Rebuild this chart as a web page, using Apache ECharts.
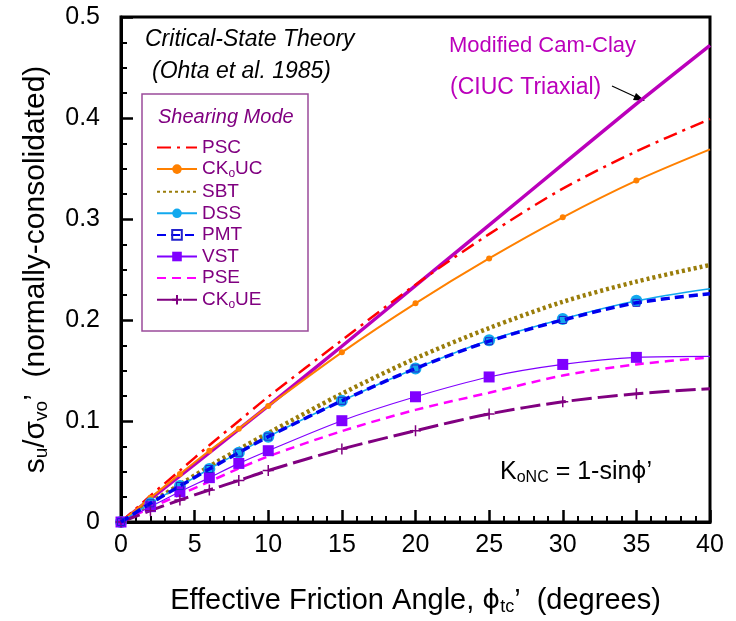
<!DOCTYPE html>
<html><head><meta charset="utf-8">
<script src="https://cdn.jsdelivr.net/npm/echarts@6/dist/echarts.min.js"></script>
<style>html,body{margin:0;padding:0;background:#fff}#c{width:736px;height:621px}</style>
</head><body><div id="c"></div>
<script>
const angles = [0, 2, 4, 6, 8, 10, 15, 20, 25, 30, 35, 40];
const mccAngles = [0, 5, 10, 15, 20, 25, 30, 35, 40];
const mcc  = [0, 0.057, 0.115, 0.174, 0.234, 0.294, 0.354, 0.414, 0.472];
const psc  = [0, 0.026, 0.051, 0.076, 0.100, 0.124, 0.180, 0.235, 0.285, 0.330, 0.367, 0.399];
const ck0uc= [0, 0.024, 0.0475, 0.0706, 0.0924, 0.1148, 0.168, 0.2165, 0.261, 0.3017, 0.338, 0.369];
const sbt  = [0, 0.019, 0.037, 0.055, 0.072, 0.088, 0.127, 0.162, 0.192, 0.218, 0.238, 0.2545];
const dss  = [0, 0.0185, 0.0356, 0.0525, 0.0686, 0.0845, 0.120, 0.152, 0.180, 0.201, 0.219, 0.231];
const pmt  = [0, 0.0185, 0.0356, 0.0525, 0.0686, 0.0845, 0.120, 0.152, 0.179, 0.200, 0.217, 0.226];
const vst  = [0, 0.0152, 0.030, 0.0439, 0.058, 0.0706, 0.1003, 0.124, 0.1436, 0.156, 0.163, 0.164];
const pse  = [0, 0.014, 0.027, 0.040, 0.053, 0.065, 0.090, 0.111, 0.128, 0.145, 0.156, 0.163];
const ck0ue= [0, 0.0112, 0.0218, 0.0317, 0.041, 0.051, 0.0723, 0.0904, 0.107, 0.119, 0.127, 0.132];
const seriesNames = ['PSC', 'CK0UC', 'SBT', 'DSS', 'PMT', 'VST', 'PSE', 'CK0UE'];
const lineOnly = ['PSC', 'SBT', 'PSE'];

const pair = (xs, ys) => xs.map((x, i) => [x, ys[i]]);
const FONT = 'Liberation Sans';
const PURPLE = '#800080';
const noLast = (sz) => (v, p) => (p.dataIndex === angles.length - 1 ? 0 : sz);

const chart = echarts.init(document.getElementById('c'));
chart.setOption({
  animation: false,
  backgroundColor: '#fff',
  textStyle: { fontFamily: FONT },
  grid: { left: 121, right: 26, top: 17, bottom: 99, show: true, borderColor: '#000', borderWidth: 3 },
  xAxis: {
    type: 'value', min: 0, max: 40, interval: 5,
    axisLine: { lineStyle: { color: '#000', width: 3 } },
    axisTick: { inside: true, length: 12, lineStyle: { color: '#000', width: 2.5 } },
    minorTick: { show: true, splitNumber: 5, length: 6, lineStyle: { color: '#000', width: 2 } },
    splitLine: { show: false },
    axisLabel: { fontSize: 25, color: '#000', margin: 11, fontFamily: FONT },
    name: 'Effective Friction Angle, {p|ϕ}{sub|tc}’  (degrees)',
    nameLocation: 'middle', nameGap: 64,
    nameTextStyle: { fontSize: 29, color: '#000', fontFamily: FONT,
      rich: { p: { fontSize: 27, fontFamily: 'DejaVu Sans', color: '#000' }, sub: { fontSize: 18, verticalAlign: 'bottom', padding: [12, 0, 0, 0], fontFamily: FONT, color: '#000' } } }
  },
  yAxis: {
    type: 'value', min: 0, max: 0.5, interval: 0.1,
    axisLine: { lineStyle: { color: '#000', width: 3 } },
    axisTick: { inside: true, length: 12, lineStyle: { color: '#000', width: 2.5 } },
    minorTick: { show: true, splitNumber: 4, length: 6, lineStyle: { color: '#000', width: 2 } },
    splitLine: { show: false },
    axisLabel: { fontSize: 25, color: '#000', margin: 21, fontFamily: FONT, formatter: v => (v === 0 ? '0' : String(+v.toFixed(1))) },
    name: 's{sub|u}/σ{sub|vo}’  (normally-consolidated)',
    nameLocation: 'middle', nameGap: 70, nameRotate: 90,
    nameTextStyle: { fontSize: 30, color: '#000', fontFamily: FONT,
      rich: { sub: { fontSize: 19, verticalAlign: 'bottom', padding: [12, 0, 0, 0], fontFamily: FONT, color: '#000' } } }
  },
  legend: {
    orient: 'vertical', left: 151, top: 133, itemGap: 2.6, itemWidth: 40, itemHeight: 12,
    data: seriesNames.map(n => lineOnly.includes(n) ? { name: n, itemStyle: { color: 'rgba(0,0,0,0)', borderColor: 'rgba(0,0,0,0)', opacity: 0 } } : { name: n }),
    textStyle: { color: PURPLE, fontSize: 19, fontFamily: FONT,
      rich: { n: { color: PURPLE, fontSize: 19, fontFamily: FONT }, s: { color: PURPLE, fontSize: 12, verticalAlign: 'bottom', padding: [9, 0, 0, 0], fontFamily: FONT } } },
    formatter: name => name.startsWith('CK0') ? '{n|CK}{s|o}{n|' + name.slice(3) + '}' : name
  },
  graphic: [
    { type: 'rect', shape: { x: 142, y: 94, width: 166, height: 237 }, style: { fill: 'none', stroke: '#9B4B9B', lineWidth: 1.5 }, z: 1 },
    { type: 'text', left: 158, top: 107, style: { text: 'Shearing Mode', fill: PURPLE, font: 'italic 20px "Liberation Sans"' } },
    { type: 'text', left: 145, top: 28, style: { text: 'Critical-State Theory', fill: '#000', font: 'italic 23px "Liberation Sans"' } },
    { type: 'text', left: 152, top: 60, style: { text: '(Ohta et al. 1985)', fill: '#000', font: 'italic 23px "Liberation Sans"' } },
    { type: 'text', left: 449, top: 35, style: { text: 'Modified Cam-Clay', fill: '#BB00BB', font: '22px "Liberation Sans"' } },
    { type: 'text', left: 450, top: 76, style: { text: '(CIUC Triaxial)', fill: '#BB00BB', font: '23px "Liberation Sans"' } },
    { type: 'line', shape: { x1: 612, y1: 86, x2: 638, y2: 98 }, style: { stroke: '#000', lineWidth: 1.2 } },
    { type: 'polygon', shape: { points: [[645, 101], [633, 100], [636, 93]] }, style: { fill: '#000' } },
    { type: 'text', left: 500, top: 460, style: { rich: { m: { fontSize: 25, fontFamily: FONT, fill: '#000' }, p: { fontSize: 23, fontFamily: 'DejaVu Sans', fill: '#000' }, s: { fontSize: 16, fontFamily: FONT, fill: '#000', padding: [11, 0, 0, 0] } }, text: '{m|K}{s|oNC}{m| = 1-sin}{p|ϕ}{m|’}' } }
  ],
  series: [
    { name: 'MCC', type: 'line', data: pair(mccAngles, mcc), symbol: 'none', smooth: 0.2, lineStyle: { color: '#BB00BB', width: 3.5 }, itemStyle: { color: '#BB00BB' }, z: 3 },
    { name: 'PSC', type: 'line', data: pair(angles, psc), symbol: 'none', smooth: 0.3, lineStyle: { color: '#FF0000', width: 2.5, type: [14, 6, 3, 6] }, itemStyle: { color: '#FF0000' }, z: 4 },
    { name: 'CK0UC', type: 'line', data: pair(angles, ck0uc), symbol: 'circle', symbolSize: noLast(6), smooth: 0.3, lineStyle: { color: '#FF8000', width: 2 }, itemStyle: { color: '#FF8000' }, z: 4 },
    { name: 'SBT', type: 'line', data: pair(angles, sbt), symbol: 'none', smooth: 0.3, lineStyle: { color: '#9A7D0A', width: 4.5, type: [3, 3] }, itemStyle: { color: '#9A7D0A' }, z: 3 },
    { name: 'DSS', type: 'line', data: pair(angles, dss), symbol: 'circle', symbolSize: noLast(12), smooth: 0.3, lineStyle: { color: '#12A9EE', width: 1.5 }, itemStyle: { color: '#12A9EE' }, z: 4 },
    { name: 'PMT', type: 'line', data: pair(angles, pmt), symbol: 'rect', symbolSize: noLast(7), smooth: 0.3, lineStyle: { color: '#0000EE', width: 3.5, type: [9, 5] }, itemStyle: { color: 'rgba(255,255,255,0)', borderColor: '#2222CC', borderWidth: 1 }, z: 5 },
    { name: 'VST', type: 'line', data: pair(angles, vst), symbol: 'rect', symbolSize: noLast(11), smooth: 0.3, lineStyle: { color: '#8000FF', width: 1.2 }, itemStyle: { color: '#8000FF' }, z: 4 },
    { name: 'PSE', type: 'line', data: pair(angles, pse), symbol: 'none', smooth: 0.3, lineStyle: { color: '#FF00FF', width: 2.5, type: [9, 6] }, itemStyle: { color: '#FF00FF' }, z: 3 },
    { name: 'CK0UE', type: 'line', data: pair(angles, ck0ue), symbol: 'path://M0,5L10,5M5,0L5,10', symbolSize: noLast(11), smooth: 0.3, lineStyle: { color: PURPLE, width: 3, type: [20, 6] }, itemStyle: { color: PURPLE, borderColor: PURPLE, borderWidth: 1.5 }, z: 4 }
  ]
});
</script>
</body></html>
